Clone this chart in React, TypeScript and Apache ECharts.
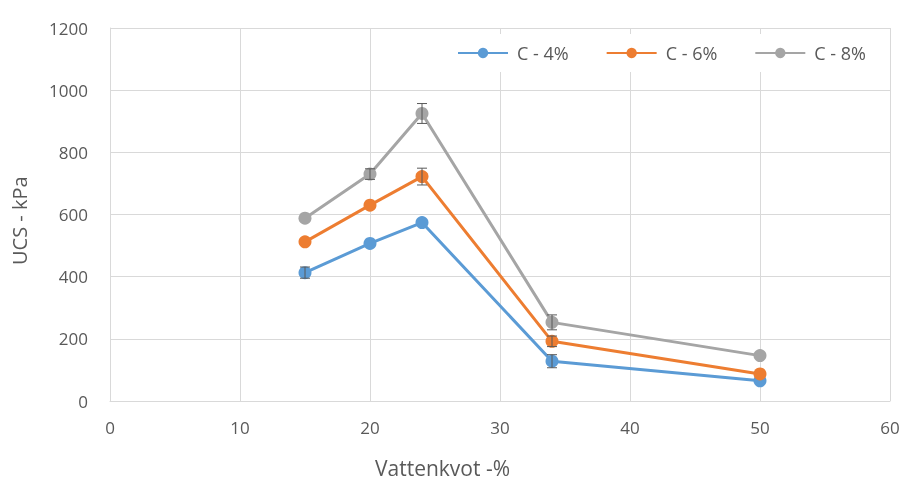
import React, { useEffect, useRef } from "react";
import * as echarts from "echarts";

const xValues = [15, 20, 24, 34, 50];
const c4 = [413, 507, 574, 128, 65];
const c6 = [512, 630, 722, 192, 87];
const c8 = [588, 730, 925, 253, 146];
const c4Err = [18, 0, 0, 21, 0];
const c6Err = [0, 0, 27, 17, 0];
const c8Err = [0, 17, 32, 24, 0];
const seriesNames = ["C - 4%", "C - 6%", "C - 8%"];
const colors = ["#5b9bd5", "#ed7d31", "#a5a5a5"];

const FONT = "Open Sans";
const TXT = "#595959";

export default function App() {
  const ref = useRef<HTMLDivElement>(null);
  useEffect(() => {
    if (!ref.current) return;
    const chart = echarts.init(ref.current, undefined, { renderer: "svg" });
    const vals = [c4, c6, c8];
    const errs = [c4Err, c6Err, c8Err];

    const lineSeries = seriesNames.map((name, i) => ({
      type: "line",
      name,
      data: xValues.map((x, j) => [x, vals[i][j]]),
      symbol: "circle",
      symbolSize: 13,
      lineStyle: { width: 3, color: colors[i] },
      itemStyle: { color: colors[i] },
      z: 2,
    }));

    const errSeries = seriesNames.map((name, i) => ({
      type: "custom",
      name: name + " err",
      data: xValues
        .map((x, j) => [x, vals[i][j], errs[i][j]])
        .filter((d) => d[2] > 0),
      z: 5,
      renderItem: (params: any, api: any) => {
        const x = api.value(0);
        const y = api.value(1);
        const e = api.value(2);
        const top = api.coord([x, y + e]);
        const bot = api.coord([x, y - e]);
        const hw = 5;
        const style = { stroke: "#595959", lineWidth: 1 };
        return {
          type: "group",
          children: [
            { type: "line", shape: { x1: top[0], y1: top[1], x2: bot[0], y2: bot[1] }, style },
            { type: "line", shape: { x1: top[0] - hw, y1: top[1], x2: top[0] + hw, y2: top[1] }, style },
            { type: "line", shape: { x1: bot[0] - hw, y1: bot[1], x2: bot[0] + hw, y2: bot[1] }, style },
          ],
        };
      },
    }));

    chart.setOption({
      animation: false,
      textStyle: { fontFamily: FONT },
      grid: { left: 110, right: 15, top: 28, bottom: 84 },
      legend: {
        data: seriesNames,
        left: 447,
        top: 34,
        padding: [10, 10],
        backgroundColor: "#ffffff",
        itemWidth: 50,
        itemHeight: 13,
        itemGap: 37,
        textStyle: { color: TXT, fontSize: 18, fontFamily: FONT, padding: [0, 0, 0, 4] },
      },
      xAxis: {
        type: "value",
        min: 0,
        max: 60,
        interval: 10,
        axisLine: { show: true, lineStyle: { color: "#d9d9d9", width: 1 } },
        axisTick: { show: false },
        splitLine: { show: true, lineStyle: { color: "#d9d9d9", width: 1 } },
        axisLabel: { color: TXT, fontSize: 17, margin: 18, fontFamily: FONT },
      },
      yAxis: {
        type: "value",
        min: 0,
        max: 1200,
        interval: 200,
        axisLine: { show: true, lineStyle: { color: "#d9d9d9", width: 1 } },
        axisTick: { show: false },
        splitLine: { show: true, lineStyle: { color: "#d9d9d9", width: 1 } },
        axisLabel: {
          color: TXT,
          fontSize: 17,
          margin: 22,
          fontFamily: FONT,
          formatter: (v: number) => String(v),
        },
      },
      graphic: [
        {
          type: "text",
          left: 375,
          top: 457,
          style: { text: "Vattenkvot -%", fill: TXT, font: `21px '${FONT}'` },
        },
        {
          type: "text",
          x: 9,
          y: 265,
          rotation: Math.PI / 2,
          style: { text: "UCS - kPa", fill: TXT, font: `20px '${FONT}'` },
        },
      ],
      series: [...lineSeries, ...errSeries],
    });
    return () => chart.dispose();
  }, []);
  return (
    <div
      ref={ref}
      style={{ position: "fixed", left: 0, top: 0, width: 905, height: 485 }}
    />
  );
}
